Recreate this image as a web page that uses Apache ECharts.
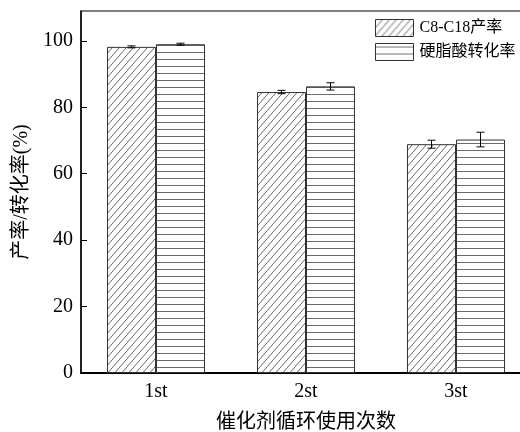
<!DOCTYPE html>
<html><head><meta charset="utf-8">
<script src="https://cdn.jsdelivr.net/npm/echarts@6/dist/echarts.min.js"></script>
<style>html,body{margin:0;padding:0;background:#fff}#c{width:520px;height:432px}</style>
</head><body><div id="c"></div>
<script>
const categories = ['1st', '2st', '3st'];
const seriesNames = ['C8-C18产率', '硬脂酸转化率'];
const yieldValues = [98.2, 84.6, 68.9];
const yieldErrors = [0.3, 0.5, 1.2];
const convValues = [99.0, 86.3, 70.3];
const convErrors = [0.3, 1.1, 2.2];
const yTicks = [0, 20, 40, 60, 80, 100];

function hatchPattern() {
  const w = 7, h = 8;
  const c = document.createElement('canvas'); c.width = w; c.height = h;
  const g = c.getContext('2d');
  g.fillStyle = '#fff'; g.fillRect(0, 0, w, h);
  g.strokeStyle = '#555'; g.lineWidth = 0.9;
  g.beginPath();
  g.moveTo(0, h); g.lineTo(w, 0);
  g.moveTo(-w, h); g.lineTo(0, 0);
  g.moveTo(w, 2 * h); g.lineTo(2 * w, h);
  g.stroke();
  return c;
}
function hLinePattern() {
  const c = document.createElement('canvas'); c.width = 4; c.height = 7;
  const g = c.getContext('2d');
  g.fillStyle = '#fff'; g.fillRect(0, 0, 4, 7);
  g.fillStyle = '#6a6a6a'; g.fillRect(0, 3, 4, 1);
  return c;
}

const font = '"Liberation Serif", "Times New Roman", "Noto Sans CJK SC", serif';
const BW = 49;

function errSeries(vals, errs, off) {
  return {
    type: 'custom',
    silent: true,
    z: 10,
    data: vals.map((v, i) => [i, v, errs[i]]),
    renderItem(params, api) {
      const i = api.value(0), v = api.value(1), e = api.value(2);
      const hi = api.coord([i, v + e]);
      const lo = api.coord([i, v - e]);
      const x = hi[0] + off;
      const cw = 4;
      const st = { stroke: '#000', lineWidth: 1 };
      return { type: 'group', children: [
        { type: 'line', shape: { x1: x, y1: hi[1], x2: x, y2: lo[1] }, style: st },
        { type: 'line', shape: { x1: x - cw, y1: hi[1], x2: x + cw, y2: hi[1] }, style: st },
        { type: 'line', shape: { x1: x - cw, y1: lo[1], x2: x + cw, y2: lo[1] }, style: st }
      ]};
    }
  };
}

const chart = echarts.init(document.getElementById('c'), null, { renderer: 'canvas' });
chart.setOption({
  animation: false,
  backgroundColor: '#fff',
  grid: { left: 81, top: 11, width: 450, bottom: 59, show: true, borderColor: '#000', borderWidth: 1,
    outerBoundsMode: 'none', containLabel: false },
  legend: {
    orient: 'vertical', left: 375, top: 19, padding: 0, icon: 'rect',
    itemWidth: 38, itemHeight: 17, itemGap: 6,
    data: seriesNames,
    textStyle: { fontFamily: font, fontSize: 16, color: '#000', padding: [2, 0, 0, 1] },
    itemStyle: { borderColor: '#333', borderWidth: 1 }
  },
  xAxis: {
    type: 'category', data: categories,
    name: '催化剂循环使用次数', nameLocation: 'middle', nameGap: 40,
    nameTextStyle: { fontFamily: font, fontSize: 20, color: '#000' },
    axisLine: { lineStyle: { color: '#000', width: 2 } },
    axisTick: { show: false },
    axisLabel: { fontFamily: font, fontSize: 20, color: '#000', margin: 9 }
  },
  yAxis: {
    type: 'value', min: 0, max: 109, interval: 20,
    name: '产率/转化率(%)', nameLocation: 'middle', nameGap: 47,
    nameTextStyle: { fontFamily: font, fontSize: 20, color: '#000' },
    axisLine: { show: true, lineStyle: { color: '#000', width: 1.5 } },
    axisTick: { show: true, inside: true, length: 6, lineStyle: { color: '#000' } },
    splitLine: { show: false },
    axisLabel: { fontFamily: font, fontSize: 20, color: '#000', margin: 8, showMaxLabel: false,
      formatter: v => (yTicks.indexOf(v) >= 0 ? String(v) : '') }
  },
  series: [
    { name: seriesNames[0], type: 'bar', data: yieldValues, barWidth: BW, barGap: '0%',
      itemStyle: { color: { image: hatchPattern(), repeat: 'repeat' }, borderColor: '#333', borderWidth: 1 } },
    { name: seriesNames[1], type: 'bar', data: convValues, barWidth: BW, barGap: '0%',
      itemStyle: { color: { image: hLinePattern(), repeat: 'repeat' }, borderColor: '#333', borderWidth: 1 } },
    errSeries(yieldValues, yieldErrors, -BW / 2),
    errSeries(convValues, convErrors, BW / 2)
  ]
});
</script></body></html>
